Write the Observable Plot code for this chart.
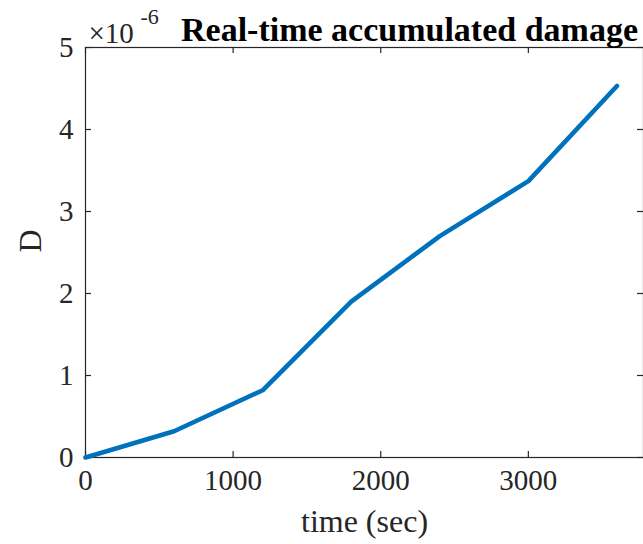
<!DOCTYPE html>
<html>
<head>
<meta charset="utf-8">
<script src="https://cdn.jsdelivr.net/npm/d3@7"></script>
<script src="https://cdn.jsdelivr.net/npm/@observablehq/plot@0.6"></script>
<style>
  html, body { margin: 0; padding: 0; background: #fff; overflow: hidden; }
</style>
</head>
<body>
<div id="chart"></div>
<script>
// Data (D in units of 1e-6)
const time = [0, 600, 1200, 1800, 2400, 3000, 3600];
const damage = [0, 0.32, 0.82, 1.90, 2.70, 3.37, 4.53];
const xTicks = [0, 1000, 2000, 3000];
const yTicks = [0, 1, 2, 3, 4, 5];
const titleText = "Real-time accumulated damage";
const xLabel = "time (sec)";
const yLabel = "D";
const multiplierBase = "×10";
const multiplierExp = "-6";

const rows = time.map((t, i) => ({t, d: damage[i]}));

const W = 643, H = 544;
const mL = 85, mT = 47, mB = 87, mR = 0;
const xMax = 3780, yMax = 5;
const ink = "#262626";
const font = "'Liberation Serif', 'Times New Roman', serif";
const tickLenX = 6 * yMax / (H - mT - mB);   // px -> data units
const tickLenY = 6 * xMax / (W - mL - mR);

const chart = Plot.plot({
  width: W,
  height: H,
  marginLeft: mL,
  marginTop: mT,
  marginBottom: mB,
  marginRight: mR,
  style: {fontFamily: font, color: ink, background: "#fff", overflow: "hidden"},
  x: {domain: [0, xMax]},
  y: {domain: [0, yMax]},
  marks: [
    // frame
    Plot.frame({stroke: ink, strokeWidth: 1.2}),
    // inward ticks bottom/top
    Plot.ruleX(xTicks, {x: d => d, y1: 0, y2: tickLenX, stroke: ink, strokeWidth: 1.2}),
    Plot.ruleX(xTicks, {x: d => d, y1: yMax - tickLenX, y2: yMax, stroke: ink, strokeWidth: 1.2}),
    // inward ticks left/right
    Plot.ruleY(yTicks, {y: d => d, x1: 0, x2: tickLenY, stroke: ink, strokeWidth: 1.2}),
    Plot.ruleY(yTicks, {y: d => d, x1: xMax - tickLenY, x2: xMax, stroke: ink, strokeWidth: 1.2}),
    // axes labels
    Plot.axisX(xTicks, {tickSize: 0, tickPadding: 12, fontSize: 29, label: null, fill: ink, tickFormat: d => String(d)}),
    Plot.axisY(yTicks, {tickSize: 0, tickPadding: 12, fontSize: 29, label: null, fill: ink, tickFormat: d => String(d)}),
    // data line
    Plot.line(rows, {x: "t", y: "d", stroke: "#0072BD", strokeWidth: 4.6}),
    // axis titles
    Plot.text([xLabel], {frameAnchor: "bottom", dy: 74, fontSize: 32, fill: ink}),
    Plot.text([yLabel], {frameAnchor: "left", dx: -55, rotate: -90, fontSize: 32, fill: ink}),
    // title
    Plot.text([titleText], {frameAnchor: "top", dx: 45, dy: -7, lineAnchor: "bottom", fontSize: 34, fontWeight: "bold", fill: "#000"}),
    // multiplier
    Plot.text([multiplierBase], {frameAnchor: "top-left", dx: 3, dy: -5, lineAnchor: "bottom", textAnchor: "start", fontSize: 29, fill: ink}),
    Plot.text([multiplierExp], {frameAnchor: "top-left", dx: 55, dy: -24, lineAnchor: "bottom", textAnchor: "start", fontSize: 22, fill: ink})
  ]
});
document.getElementById("chart").append(chart);
</script>
</body>
</html>
